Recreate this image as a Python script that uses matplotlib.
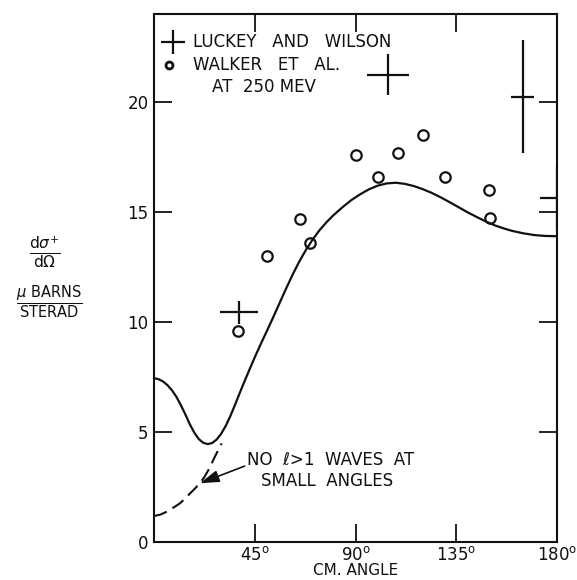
import matplotlib
matplotlib.use("Agg")

import matplotlib.pyplot as plt

plt.rcParams["font.family"] = ["DejaVu Sans"]
plt.rcParams["mathtext.fontset"] = "dejavusans"

# ── Data ──────────────────────────────────────────────────────────────────────
theory_angle = [0, 2, 4, 6, 8, 10, 12, 14, 16, 18, 20, 22, 24, 26, 28, 30, 32,
                34, 36, 38, 40, 42, 44, 46, 48, 50, 53, 56, 59, 62, 65, 68, 71,
                74, 77, 80, 84, 88, 92, 96, 100, 104, 108, 112, 116, 120, 124,
                128, 132, 136, 140, 144, 148, 152, 156, 160, 165, 170, 175, 180]
theory_xs = [7.45, 7.40, 7.30, 7.13, 6.90, 6.60, 6.22, 5.80, 5.35, 4.97, 4.68,
             4.51, 4.45, 4.50, 4.66, 4.92, 5.27, 5.70, 6.19, 6.70, 7.20, 7.68,
             8.16, 8.62, 9.07, 9.50, 10.16, 10.84, 11.52, 12.17, 12.77, 13.30,
             13.77, 14.18, 14.53, 14.84, 15.20, 15.53, 15.80, 16.03, 16.20,
             16.30, 16.33, 16.28, 16.18, 16.04, 15.87, 15.67, 15.45, 15.22,
             14.99, 14.78, 14.58, 14.40, 14.26, 14.14, 14.03, 13.95, 13.91,
             13.90]

no_l_angle = [0, 3, 5.7, 8.5, 11.6, 14, 16.1, 18.3, 20.5, 22.5, 24.3, 27.2, 30.2]
no_l_xs = [1.18, 1.25, 1.38, 1.55, 1.76, 1.98, 2.21, 2.43, 2.67, 2.95, 3.27,
           3.88, 4.48]

walker_angle = [37.5, 50.5, 65, 69.7, 90, 100, 109, 120, 130, 149.7, 149.9]
walker_xs = [9.6, 13.0, 14.7, 13.6, 17.6, 16.6, 17.7, 18.5, 16.6, 16.0, 14.75]

luckey_angle = [38, 104.4, 164.6, 180]
luckey_xs = [10.45, 21.23, 20.25, 15.65]
luckey_dang = [8.4, 9.3, 5.0, 7.8]
luckey_dxs = [0.52, 0.93, 2.55, 1.45]

x_ticks = [45, 90, 135, 180]
x_labels = [r"45$^\mathrm{o}$", r"90$^\mathrm{o}$", r"135$^\mathrm{o}$",
            r"180$^\mathrm{o}$"]
y_ticks = [0, 5, 10, 15, 20]

INK = "#111111"
FS = 12

# ── Figure ────────────────────────────────────────────────────────────────────
fig = plt.figure(figsize=(5.77, 5.80), dpi=100, facecolor="white")
ax = fig.add_axes([154 / 577, 1 - 542 / 580, 403 / 577, 528 / 580])

ax.plot(theory_angle, theory_xs, color=INK, lw=1.6, zorder=3,
        solid_joinstyle="round")
ax.plot(no_l_angle, no_l_xs, color=INK, lw=1.5, linestyle=(0, (6.5, 3.2)),
        zorder=3)

ax.plot(walker_angle, walker_xs, linestyle="none", marker="o", ms=7.5,
        mfc="none", mec=INK, mew=1.6, zorder=4)
ax.errorbar(luckey_angle, luckey_xs, xerr=luckey_dang, yerr=luckey_dxs,
            fmt="none", ecolor=INK, elinewidth=1.6, capsize=0, zorder=4)

# annotation for the dashed curve
ax.annotate("", xy=(no_l_angle[8], no_l_xs[8]), xytext=(40.5, 3.45),
            arrowprops=dict(arrowstyle="-|>,head_length=0.9,head_width=0.28",
                            mutation_scale=13, color=INK, lw=1.2,
                            shrinkA=0, shrinkB=0))
ax.text(41.5, 3.72, "NO  ℓ>1  WAVES  AT", fontsize=FS, color=INK,
        ha="left", va="center")
ax.text(47.8, 2.78, "SMALL  ANGLES", fontsize=FS, color=INK,
        ha="left", va="center")

# key in the upper left corner
ax.plot([0.047], [0.947], transform=ax.transAxes, marker="+", ms=17, mew=1.6,
        color=INK, linestyle="none", clip_on=False)
ax.plot([0.037], [0.903], transform=ax.transAxes, marker="o", ms=5, mew=2,
        mfc="none", mec=INK, linestyle="none", clip_on=False)
ax.text(0.097, 0.947, "LUCKEY   AND   WILSON", transform=ax.transAxes,
        fontsize=FS, color=INK, ha="left", va="center")
ax.text(0.097, 0.903, "WALKER   ET   AL.", transform=ax.transAxes,
        fontsize=FS, color=INK, ha="left", va="center")
ax.text(0.144, 0.862, "AT  250 MEV", transform=ax.transAxes,
        fontsize=FS, color=INK, ha="left", va="center")

# ── Axes styling ──────────────────────────────────────────────────────────────
ax.set_xlim(0, 180)
ax.set_ylim(0, 24)
ax.set_xticks(x_ticks)
ax.set_xticklabels(x_labels)
ax.set_yticks(y_ticks)
ax.tick_params(direction="in", length=13, width=1.3, colors=INK,
               labelsize=FS, top=True, right=True, pad=4)
ax.tick_params(axis="x", pad=3)
for spine in ax.spines.values():
    spine.set_color(INK)
    spine.set_linewidth(1.5)

ax.set_xlabel("CM. ANGLE", fontsize=11, color=INK, labelpad=-1)

fig.text(45 / 577, 1 - 252 / 580,
         r"$\frac{\mathrm{d}\sigma^{+}}{\mathrm{d}\Omega}$",
         fontsize=16, color=INK, ha="center", va="center")
fig.text(49 / 577, 1 - 302 / 580,
         r"$\frac{\mu\ \mathrm{BARNS}}{\mathrm{STERAD}}$",
         fontsize=15, color=INK, ha="center", va="center")

fig.savefig("out.png", dpi=100, facecolor="white")
